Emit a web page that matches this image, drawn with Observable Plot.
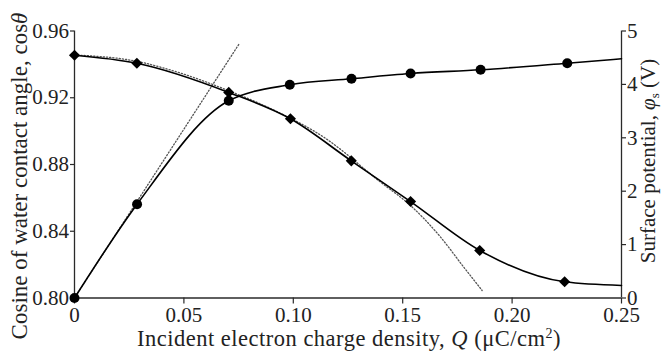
<!DOCTYPE html>
<html><head><meta charset="utf-8">
<script src="https://cdn.jsdelivr.net/npm/d3@7"></script>
<script src="https://cdn.jsdelivr.net/npm/@observablehq/plot@0.6"></script>
<style>
body{margin:0;background:#fff;}
#chart{width:662px;height:351px;}
</style>
</head><body><div id="chart"></div>
<script>
// Cosine of water contact angle (diamonds, left axis)
const chargeDensity = [0, 0.0285, 0.0705, 0.0987, 0.1265, 0.1536, 0.1852, 0.2240];
const cosTheta = [0.9455, 0.9407, 0.9232, 0.9074, 0.8822, 0.8578, 0.8285, 0.8097];
// Surface potential (circles, right axis, V)
const potentialQ = [0, 0.0286, 0.0705, 0.0984, 0.1266, 0.1536, 0.1856, 0.2252];
const surfacePotential = [0, 1.757, 3.693, 3.993, 4.105, 4.204, 4.273, 4.397];
// where the solid curves meet the right axis (no marker)
const curveEndQ = 0.25;
const cosThetaEnd = 0.8075;
const potentialEnd = 4.48;
// dotted fit curves
const cosFitQ = [0, 0.0282, 0.0457, 0.0701, 0.0914, 0.1139, 0.1399, 0.1536, 0.1673, 0.1779, 0.1863];
const cosFitValues = [0.9456, 0.9419, 0.9359, 0.9244, 0.9124, 0.8964, 0.8694, 0.8554, 0.8365, 0.8185, 0.8045];
const potentialFitQ = [0, 0.0751];
const potentialFitValues = [0, 4.75];
// ticks
const xTicks = [0, 0.05, 0.10, 0.15, 0.20, 0.25];
const cosTicks = [0.80, 0.84, 0.88, 0.92, 0.96];
const potentialTicks = [0, 1, 2, 3, 4, 5];

const cosDomain = [0.80, 0.96];
const potentialDomain = [0, 5];
const k = (cosDomain[1] - cosDomain[0]) / (potentialDomain[1] - potentialDomain[0]);
const toY = v => cosDomain[0] + (v - potentialDomain[0]) * k;

const cosData = chargeDensity.map((q, i) => ({q, v: cosTheta[i]}));
const cosLine = cosData.concat([{q: curveEndQ, v: cosThetaEnd}]);
const potData = potentialQ.map((q, i) => ({q, v: surfacePotential[i]}));
const potLine = potData.concat([{q: curveEndQ, v: potentialEnd}]);
const cosFit = cosFitQ.map((q, i) => ({q, v: cosFitValues[i]}));
const potFit = potentialFitQ.map((q, i) => ({q, v: potentialFitValues[i]}));

const axisColor = "#2a2a2a";
const fontSize = 21;

const plot = Plot.plot({
  width: 662, height: 351,
  marginLeft: 74, marginRight: 41, marginTop: 30.5, marginBottom: 53.5,
  style: {fontFamily: "'Liberation Serif', 'DejaVu Serif', serif", fontSize: fontSize + "px", color: "#222", background: "#fff", overflow: "visible"},
  x: {domain: [0, 0.25]},
  y: {domain: cosDomain},
  marks: [
    Plot.axisX({ticks: xTicks, tickFormat: d => d === 0 ? "0" : d.toFixed(2), tickSize: 6, tickPadding: 3.5, label: null, stroke: axisColor, strokeWidth: 1.2}),
    Plot.axisY({ticks: cosTicks, tickFormat: d => d.toFixed(2), tickSize: 4, tickPadding: 1.5, label: null, stroke: axisColor, strokeWidth: 1.2}),
    Plot.axisY(potentialTicks.map(toY), {anchor: "right", tickFormat: d => String(Math.round((d - cosDomain[0]) / k)), tickSize: 4, tickPadding: 1.5, label: null, stroke: axisColor, strokeWidth: 1.2}),
    Plot.ruleX([0, 0.25], {stroke: axisColor, strokeWidth: 1.3}),
    Plot.ruleY([cosDomain[0]], {stroke: axisColor, strokeWidth: 1.3}),
    Plot.line(cosFit, {x: "q", y: "v", stroke: "#555", strokeWidth: 1.3, strokeDasharray: "1.2,2", curve: "monotone-x"}),
    Plot.line(potFit, {x: "q", y: d => toY(d.v), stroke: "#555", strokeWidth: 1.3, strokeDasharray: "1.2,2"}),
    Plot.line(cosLine, {x: "q", y: "v", stroke: "#000", strokeWidth: 1.6, curve: "monotone-x"}),
    Plot.line(potLine, {x: "q", y: d => toY(d.v), stroke: "#000", strokeWidth: 1.6, curve: "monotone-x"}),
    Plot.dot(cosData, {x: "q", y: "v", symbol: "diamond2", r: 5, fill: "#000"}),
    Plot.dot(potData, {x: "q", y: d => toY(d.v), symbol: "circle", r: 5, fill: "#000"})
  ]
});
document.getElementById("chart").appendChild(plot);

// axis titles with italic / sub / superscript parts
const svg = d3.select(plot);
const labelFont = "'Liberation Serif', 'DejaVu Serif', serif";
const xl = svg.append("text").attr("x", 349).attr("y", 346).attr("text-anchor", "middle")
  .attr("font-family", labelFont).attr("font-size", 22.5).attr("letter-spacing", "0.5px").attr("fill", "#222");
xl.append("tspan").text("Incident electron charge density, ");
xl.append("tspan").attr("font-style", "italic").text("Q");
xl.append("tspan").text(" (μC/cm");
xl.append("tspan").attr("font-size", 14).attr("dy", -8).text("2");
xl.append("tspan").attr("dy", 8).text(")");

const yl = svg.append("text").attr("transform", "translate(27,176) rotate(-90)").attr("text-anchor", "middle")
  .attr("font-family", labelFont).attr("font-size", 23).attr("fill", "#222");
yl.append("tspan").text("Cosine of water contact angle, cos");
yl.append("tspan").attr("font-style", "italic").text("θ");

const yr = svg.append("text").attr("transform", "translate(655,161) rotate(-90)").attr("text-anchor", "middle")
  .attr("font-family", labelFont).attr("font-size", 21).attr("fill", "#222");
yr.append("tspan").text("Surface potential, ");
yr.append("tspan").attr("font-style", "italic").text("φ");
yr.append("tspan").attr("font-size", 13).attr("dy", 4).text("s");
yr.append("tspan").attr("dy", -4).text(" (V)");
</script>
</body></html>
